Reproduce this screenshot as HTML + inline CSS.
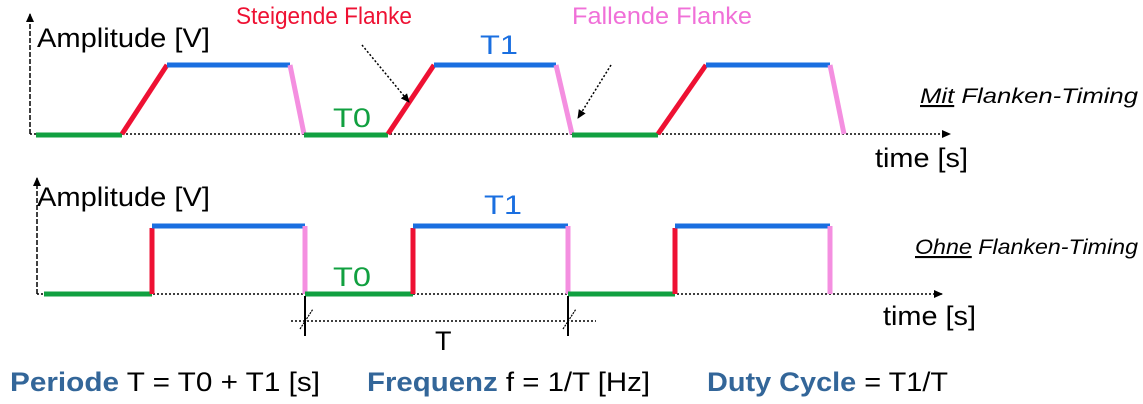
<!DOCTYPE html>
<html><head><meta charset="utf-8"><style>html,body{margin:0;padding:0;background:#fff}svg{display:block}</style></head>
<body>
<svg width="1143" height="404" viewBox="0 0 1143 404" xmlns="http://www.w3.org/2000/svg" font-family="'Liberation Sans', Arial, sans-serif">
<defs>
<marker id="ah" markerWidth="10" markerHeight="10" refX="8" refY="5" orient="auto" markerUnits="userSpaceOnUse"><path d="M0,1 L9,5 L0,9 Z" fill="#000"/></marker>
</defs>
<!-- TOP -->
<line x1="30" y1="134" x2="30" y2="14" stroke="#000" stroke-width="1.5" stroke-dasharray="5,2" marker-end="url(#ah)"/>
<line x1="30" y1="134" x2="950" y2="134" stroke="#000" stroke-width="1.5" stroke-dasharray="2,2" marker-end="url(#ah)"/>
<g stroke-width="5" fill="none">
<line x1="36" y1="135" x2="122" y2="135" stroke="#11a040"/>
<line x1="122" y1="134" x2="167" y2="65" stroke="#ee1133"/>
<line x1="167" y1="65" x2="290" y2="65" stroke="#1a6fe0"/>
<line x1="290" y1="65" x2="304" y2="134" stroke="#f48fe0"/>
<line x1="304" y1="135" x2="388" y2="135" stroke="#11a040"/>
<line x1="388" y1="134" x2="434" y2="65" stroke="#ee1133"/>
<line x1="434" y1="65" x2="556" y2="65" stroke="#1a6fe0"/>
<line x1="556" y1="65" x2="572" y2="134" stroke="#f48fe0"/>
<line x1="572" y1="135" x2="658" y2="135" stroke="#11a040"/>
<line x1="658" y1="134" x2="706" y2="65" stroke="#ee1133"/>
<line x1="706" y1="65" x2="830" y2="65" stroke="#1a6fe0"/>
<line x1="830" y1="65" x2="844" y2="134" stroke="#f48fe0"/>
</g>
<line x1="362" y1="45" x2="409" y2="102" stroke="#000" stroke-width="1.5" stroke-dasharray="2,2" marker-end="url(#ah)"/>
<line x1="611" y1="65" x2="578" y2="118" stroke="#000" stroke-width="1.5" stroke-dasharray="2,2" marker-end="url(#ah)"/>
<text x="37" y="47" font-size="27" fill="#000" textLength="173" lengthAdjust="spacingAndGlyphs">Amplitude [V]</text>
<text x="236" y="24" font-size="24" fill="#ee1133" textLength="176" lengthAdjust="spacingAndGlyphs">Steigende Flanke</text>
<text x="572" y="24" font-size="24" fill="#f070d8" textLength="180" lengthAdjust="spacingAndGlyphs">Fallende Flanke</text>
<text x="480" y="54" font-size="27" fill="#1a6fe0" textLength="38" lengthAdjust="spacingAndGlyphs">T1</text>
<text x="333" y="127" font-size="27" fill="#11a040" textLength="38" lengthAdjust="spacingAndGlyphs">T0</text>
<text x="920" y="103" font-size="21" font-style="italic" fill="#000" textLength="218" lengthAdjust="spacingAndGlyphs"><tspan text-decoration="underline">Mit</tspan> Flanken-Timing</text>
<text x="875" y="167" font-size="27" fill="#000" textLength="93" lengthAdjust="spacingAndGlyphs">time [s]</text>
<!-- BOTTOM -->
<line x1="37" y1="294" x2="37" y2="178" stroke="#000" stroke-width="1.5" stroke-dasharray="5,2" marker-end="url(#ah)"/>
<line x1="37" y1="294" x2="942" y2="294" stroke="#000" stroke-width="1.5" stroke-dasharray="2,2" marker-end="url(#ah)"/>
<g stroke-width="5" fill="none">
<line x1="44" y1="294" x2="152" y2="294" stroke="#11a040"/>
<line x1="152" y1="294" x2="152" y2="228" stroke="#ee1133"/>
<line x1="152" y1="226" x2="305" y2="226" stroke="#1a6fe0"/>
<line x1="305" y1="226" x2="305" y2="294" stroke="#f48fe0"/>
<line x1="305" y1="294" x2="413" y2="294" stroke="#11a040"/>
<line x1="413" y1="294" x2="413" y2="228" stroke="#ee1133"/>
<line x1="413" y1="226" x2="568" y2="226" stroke="#1a6fe0"/>
<line x1="568" y1="226" x2="568" y2="294" stroke="#f48fe0"/>
<line x1="568" y1="294" x2="675" y2="294" stroke="#11a040"/>
<line x1="675" y1="294" x2="675" y2="228" stroke="#ee1133"/>
<line x1="675" y1="226" x2="830" y2="226" stroke="#1a6fe0"/>
<line x1="830" y1="226" x2="830" y2="294" stroke="#f48fe0"/>
</g>
<line x1="305" y1="296" x2="305" y2="336" stroke="#000" stroke-width="2"/>
<line x1="568" y1="296" x2="568" y2="336" stroke="#000" stroke-width="2"/>
<line x1="291" y1="321" x2="596" y2="321" stroke="#000" stroke-width="1.5" stroke-dasharray="2,2"/>
<line x1="300" y1="329" x2="313" y2="309" stroke="#000" stroke-width="1.2" stroke-dasharray="2,1"/>
<line x1="563" y1="329" x2="576" y2="309" stroke="#000" stroke-width="1.2" stroke-dasharray="2,1"/>
<text x="435" y="350" font-size="27" fill="#000">T</text>
<text x="37" y="206" font-size="27" fill="#000" textLength="173" lengthAdjust="spacingAndGlyphs">Amplitude [V]</text>
<text x="484" y="214" font-size="27" fill="#1a6fe0" textLength="38" lengthAdjust="spacingAndGlyphs">T1</text>
<text x="333" y="286" font-size="27" fill="#11a040" textLength="38" lengthAdjust="spacingAndGlyphs">T0</text>
<text x="915" y="254" font-size="21" font-style="italic" fill="#000" textLength="223" lengthAdjust="spacingAndGlyphs"><tspan text-decoration="underline">Ohne</tspan> Flanken-Timing</text>
<text x="883" y="325" font-size="27" fill="#000" textLength="93" lengthAdjust="spacingAndGlyphs">time [s]</text>
<!-- formulas -->
<text x="10" y="391" font-size="27" fill="#000" textLength="310" lengthAdjust="spacingAndGlyphs"><tspan fill="#336699" font-weight="bold">Periode</tspan> T = T0 + T1 [s]</text>
<text x="367" y="391" font-size="27" fill="#000" textLength="283" lengthAdjust="spacingAndGlyphs"><tspan fill="#336699" font-weight="bold">Frequenz</tspan> f = 1/T [Hz]</text>
<text x="707" y="391" font-size="27" fill="#000" textLength="241" lengthAdjust="spacingAndGlyphs"><tspan fill="#336699" font-weight="bold">Duty Cycle</tspan> = T1/T</text>
</svg>
</body></html>
